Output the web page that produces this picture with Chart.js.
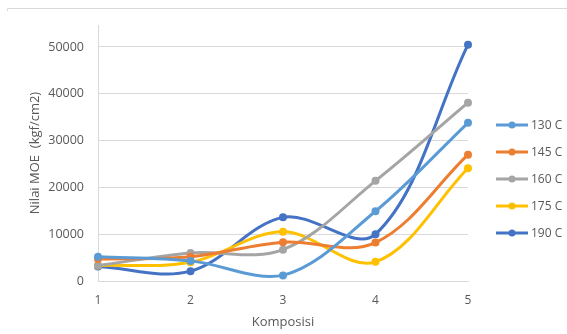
<!DOCTYPE html>
<html>
<head>
<meta charset="utf-8">
<script src="https://cdn.jsdelivr.net/npm/chart.js@4.4.1/dist/chart.umd.min.js"></script>
<style>
  html, body { margin: 0; padding: 0; background: #ffffff; }
  #wrap { width: 567px; height: 334px; }
</style>
</head>
<body>
<div id="wrap"><canvas id="chart" width="567" height="334"></canvas></div>
<script>
// Komposisi categories and MOE values (kgf/cm2) per temperature
const komposisi = ['1', '2', '3', '4', '5'];
const seriesNames = ['130 C', '145 C', '160 C', '175 C', '190 C'];
const moe130 = [5200, 4300, 1200, 14900, 33800];
const moe145 = [4700, 5200, 8300, 8200, 27000];
const moe160 = [3300, 6000, 6700, 21400, 38100];
const moe175 = [3300, 4000, 10500, 4100, 24100];
const moe190 = [3100, 2100, 13600, 10000, 50500];
const yTickValues = [0, 10000, 20000, 30000, 40000, 50000];

const seriesValues = [moe130, moe145, moe160, moe175, moe190];
const seriesColors = ['#5B9BD5', '#ED7D31', '#A5A5A5', '#FFC000', '#4472C4'];

const FONT = "'Open Sans', 'Liberation Sans', sans-serif";
const TEXT = '#595959';

// Legend on the right: short line with a dot, then the series name
const sideLegend = {
  id: 'sideLegend',
  afterDraw(chart) {
    const ctx = chart.ctx;
    ctx.save();
    chart.data.datasets.forEach((ds, i) => {
      const y = 125 + i * 27;
      ctx.strokeStyle = ds.borderColor;
      ctx.lineWidth = 3;
      ctx.beginPath();
      ctx.moveTo(496, y);
      ctx.lineTo(528, y);
      ctx.stroke();
      ctx.fillStyle = ds.borderColor;
      ctx.beginPath();
      ctx.arc(512, y, 3.5, 0, Math.PI * 2);
      ctx.fill();
      ctx.fillStyle = TEXT;
      ctx.font = '12px ' + FONT;
      ctx.textAlign = 'left';
      ctx.textBaseline = 'middle';
      ctx.fillText(ds.label, 531, y + 1);
    });
    ctx.restore();
  }
};

// Thin frame line along the top edge
const topFrame = {
  id: 'topFrame',
  beforeDraw(chart) {
    const ctx = chart.ctx;
    ctx.save();
    ctx.strokeStyle = '#D9D9D9';
    ctx.lineWidth = 1;
    ctx.beginPath();
    ctx.moveTo(7.5, 11);
    ctx.lineTo(7.5, 8.5);
    ctx.lineTo(567, 8.5);
    ctx.stroke();
    ctx.restore();
  }
};

new Chart(document.getElementById('chart'), {
  type: 'line',
  data: {
    labels: komposisi,
    datasets: seriesNames.map((name, i) => ({
      label: name,
      data: seriesValues[i],
      borderColor: seriesColors[i],
      backgroundColor: seriesColors[i],
      borderWidth: 3,
      pointRadius: 4,
      pointBorderWidth: 0,
      pointBackgroundColor: seriesColors[i],
      tension: 0.35,
      fill: false
    }))
  },
  options: {
    responsive: false,
    animation: false,
    events: [],
    layout: { padding: { left: 0, right: 99, top: 25, bottom: 0 } },
    plugins: {
      legend: { display: false },
      tooltip: { enabled: false }
    },
    scales: {
      x: {
        offset: false,
        grid: { display: false, drawTicks: false },
        border: { display: true, color: '#D9D9D9', width: 1 },
        ticks: { color: TEXT, font: { family: FONT, size: 12 }, padding: 12, maxRotation: 0 },
        title: {
          display: true, text: 'Komposisi', color: TEXT,
          font: { family: FONT, size: 13 }, padding: { top: 0, bottom: 4 }
        },
        afterFit(scale) { scale.height = 53; }
      },
      y: {
        min: 0,
        max: 54700,
        afterBuildTicks(scale) { scale.ticks = yTickValues.map(v => ({ value: v })); },
        grid: { color: '#D9D9D9', lineWidth: 1, drawTicks: false },
        border: { display: true, color: '#D9D9D9', width: 1 },
        ticks: {
          color: TEXT, font: { family: FONT, size: 12.5 }, padding: 14,
          callback: (v) => String(v)
        },
        title: {
          display: true, text: 'Nilai MOE  (kgf/cm2)', color: TEXT,
          font: { family: FONT, size: 13 }, padding: { top: 27, bottom: 0 }
        },
        afterFit(scale) { scale.width = 98; }
      }
    }
  },
  plugins: [topFrame, sideLegend]
});
</script>
</body>
</html>
